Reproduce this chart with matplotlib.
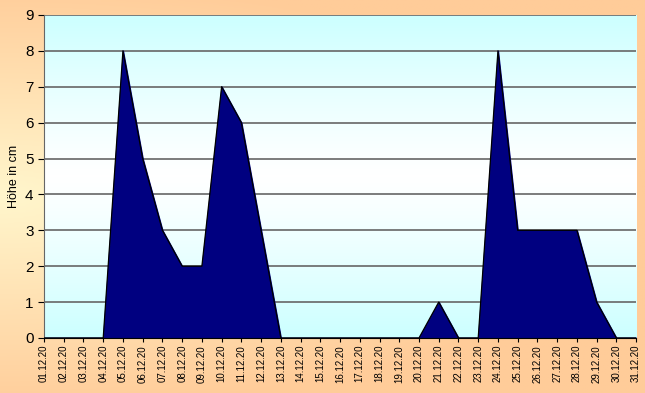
from matplotlib import pyplot as plt
from matplotlib.colors import LinearSegmentedColormap
import numpy as np

# Schneehoehe Dezember
dates = [f"{d:02d}.12.20" for d in range(1, 32)]
hoehe = [0, 0, 0, 0, 8, 5, 3, 2, 2, 7, 6, 3, 0, 0, 0, 0, 0, 0, 0, 0,
         1, 0, 0, 8, 3, 3, 3, 3, 1, 0, 0]

plt.rcParams["font.family"] = ["Liberation Sans", "DejaVu Sans"]

fig = plt.figure(figsize=(6.45, 3.93), dpi=100)

# figure background: peach with light yellow towards the left middle
bg = fig.add_axes([0, 0, 1, 1], zorder=-10)
yy, xx = np.mgrid[0:1:200j, 0:1:330j]
t = np.clip(np.sqrt((xx / 1.0) ** 2 + ((yy - 0.5) / 0.55) ** 2), 0, 1)
bg_cmap = LinearSegmentedColormap.from_list("bg", ["#FFF6CC", "#FFCC99"])
bg.imshow(t, cmap=bg_cmap, aspect="auto", extent=[0, 1, 0, 1], origin="lower")
bg.set_axis_off()

ax = fig.add_axes([0.0682, 0.140, 0.918, 0.822])
x = np.arange(len(dates))

# plot area gradient: cyan - white - cyan
g = np.abs(np.linspace(-1, 1, 200))[:, None] ** 1.2
area_cmap = LinearSegmentedColormap.from_list("area", ["#FFFFFF", "#CCFFFF"])
ax.imshow(g, cmap=area_cmap, aspect="auto", extent=[0, 30, 0, 9],
          origin="lower", zorder=0)

ax.fill_between(x, hoehe, 0, color="#000080", zorder=2)
ax.plot(x, hoehe, color="black", linewidth=0.9, zorder=3)

ax.set_xlim(0, 30)
ax.set_ylim(0, 9)
ax.set_yticks(range(0, 10))
for yv in range(1, 10):
    ax.axhline(yv, color="#666666", linewidth=1.2, zorder=1)

ax.set_xticks(x)
ax.set_xticklabels(dates, rotation=90, fontsize=7)
ax.tick_params(axis="y", labelsize=11, length=4, direction="out")
ax.tick_params(axis="x", length=3, direction="out", pad=2)
ax.set_ylabel("Höhe in cm", fontsize=9)

for side in ["top", "right"]:
    ax.spines[side].set_visible(False)
ax.spines["left"].set_color("#666666")
ax.spines["bottom"].set_color("black")

fig.savefig("out.png", dpi=100)
plt.close(fig)
